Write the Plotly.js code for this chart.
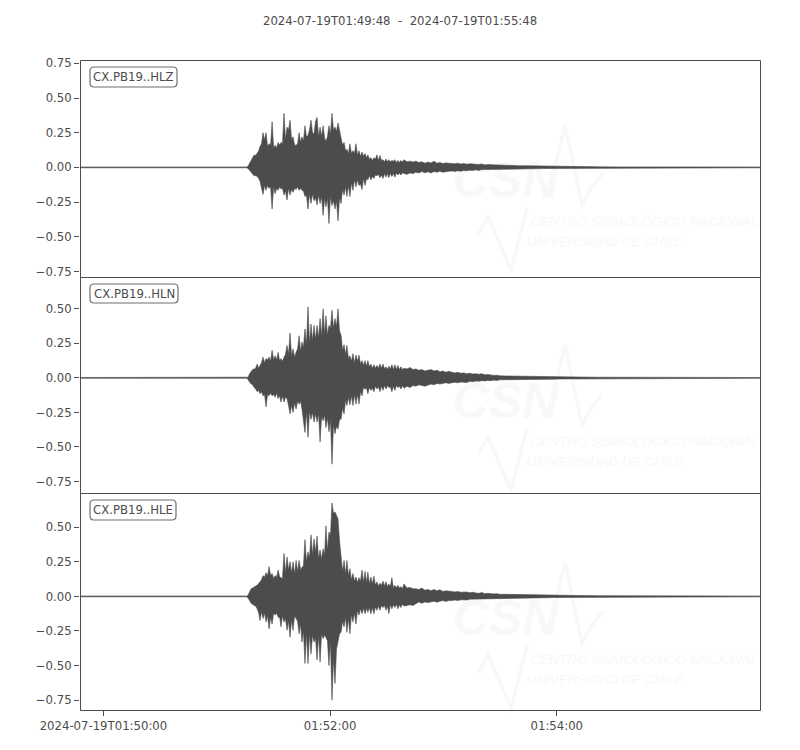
<!DOCTYPE html>
<html><head><meta charset="utf-8">
<script src="https://cdn.plot.ly/plotly-3.0.1.min.js"></script>
<style>html,body{margin:0;padding:0;background:#fff}</style></head>
<body><div id="c" style="width:800px;height:750px"></div>
<script>
// seconds after 2024-07-19T01:49:48
var seconds=[0,88.0,
88.6,89.4,90.2,91.0,91.8,92.6,93.4,94.2,94.9,95.7,96.5,97.3,98.1,98.9,99.7,100.5,101.3,102.1,102.9,103.7,104.5,105.3,106.0,106.8,107.6,108.4,109.2,110.0,110.8,111.6,112.4,113.2,114.0,114.8,115.6,116.4,117.1,117.9,118.7,119.5,120.3,121.1,121.9,122.7,123.5,124.3,125.1,125.9,126.7,127.5,128.3,129.1,129.8,130.6,131.4,132.2,133.0,133.8,134.6,135.4,136.2,137.0,137.8,138.6,139.4,140.2,140.9,141.7,142.5,143.3,144.1,144.9,145.7,146.5,147.3,148.1,148.9,149.7,150.5,151.3,152.0,152.8,153.6,154.4,155.2,156.0,156.8,157.6,158.4,159.2,160.0,160.8,161.6,162.4,163.1,163.9,164.7,165.5,166.3,167.1,167.9,168.7,169.5,170.3,
171.1,172.7,174.3,175.9,177.4,179.0,180.6,182.2,183.8,185.4,187.0,188.6,190.1,191.7,193.3,194.9,196.5,198.1,199.6,201.2,202.8,204.4,206.0,207.6,209.2,210.7,212.3,213.9,215.5,217.1,218.7,220.3,221.8,
225.0,228.2,231.4,234.5,237.7,240.9,244.0,247.2,250.4,253.6,
264.1,274.7,285.3,295.8,306.4,317.0,327.5,338.1,348.7,359.3,360];

var hlzUpper=[.003,.003,
.01,.03,.06,.07,.09,.085,.10,.12,.15,.17,.25,.20,.25,.15,.17,.16,.33,.14,.16,.14,.18,.16,.18,.17,.39,.20,.29,.27,.34,.20,.22,.16,.16,.17,.25,.18,.22,.19,.30,.22,.23,.27,.34,.25,.24,.33,.36,.22,.29,.22,.30,.21,.19,.22,.30,.24,.39,.27,.29,.26,.32,.26,
.23,.16,.18,.12,.13,.10,.17,.10,.12,.10,.17,.09,.12,.08,.11,.08,.10,.07,.09,.06,.07,.05,.07,.06,.09,.05,.085,.05,.055,.04,.06,.04,.055,.04,.05,.045,.055,.035,.05,.035,.05,.038,
.055,.04,.045,.038,.045,.035,.04,.03,.038,.032,.045,.03,.035,.028,.032,.03,.03,.026,.03,.024,.028,.022,.026,.024,.022,.02,.024,.018,.02,.019,.016,.02,.015,
.014,.013,.012,.012,.011,.01,.01,.009,.008,.008,
.005,.004,.003,.003,.003,.003,.003,.003,.003,.003,.003];
var hlzLower=[-.003,-.003,
-.01,-.02,-.03,-.05,-.06,-.06,-.065,-.08,-.10,-.14,-.195,-.13,-.165,-.13,-.15,-.14,-.30,-.14,-.19,-.15,-.165,-.14,-.155,-.15,-.20,-.17,-.235,-.15,-.20,-.16,-.18,-.15,-.16,-.14,-.165,-.15,-.165,-.17,-.21,-.20,-.30,-.19,-.26,-.19,-.24,-.22,-.27,-.20,-.26,-.21,-.345,-.22,-.285,-.22,-.405,-.21,-.275,-.24,-.30,-.24,-.385,-.22,
-.26,-.16,-.20,-.14,-.21,-.13,-.21,-.11,-.165,-.09,-.14,-.09,-.13,-.12,-.16,-.08,-.13,-.08,-.09,-.06,-.09,-.065,-.08,-.055,-.06,-.05,-.075,-.055,-.08,-.045,-.07,-.045,-.075,-.045,-.065,-.045,-.07,-.04,-.055,-.04,-.055,-.038,
-.045,-.05,-.04,-.045,-.035,-.04,-.03,-.038,-.032,-.04,-.03,-.035,-.028,-.035,-.03,-.028,-.026,-.03,-.024,-.028,-.022,-.025,-.02,-.022,-.018,-.022,-.016,-.02,-.016,-.018,-.014,-.016,-.013,
-.012,-.012,-.012,-.011,-.01,-.01,-.009,-.008,-.008,-.007,
-.005,-.004,-.003,-.003,-.003,-.003,-.003,-.003,-.003,-.003,-.003];

var hlnUpper=[.003,.003,
.005,.03,.05,.06,.065,.07,.10,.07,.09,.11,.15,.11,.14,.13,.15,.12,.20,.13,.16,.13,.185,.12,.14,.12,.15,.17,.235,.17,.325,.16,.21,.15,.185,.21,.305,.19,.26,.22,.355,.24,.515,.25,.39,.27,.38,.28,.38,.29,.43,.30,.50,.31,.45,.31,.38,.36,.49,.36,.43,.37,.50,.34,
.31,.20,.24,.17,.235,.14,.16,.12,.175,.11,.165,.12,.165,.10,.125,.09,.125,.085,.125,.08,.10,.07,.095,.07,.09,.07,.10,.07,.10,.065,.08,.06,.085,.065,.095,.06,.095,.06,.09,.06,.08,.06,
.07,.065,.075,.06,.065,.055,.06,.05,.055,.06,.05,.055,.045,.05,.04,.048,.04,.036,.04,.034,.036,.03,.034,.028,.03,.026,.03,.022,.024,.02,.018,.02,.015,
.014,.013,.012,.011,.011,.01,.01,.009,.009,.008,
.006,.005,.004,.003,.003,.003,.003,.003,.003,.003,.003];
var hlnLower=[-.003,-.003,
-.01,-.03,-.045,-.05,-.07,-.08,-.10,-.09,-.115,-.10,-.13,-.12,-.21,-.12,-.13,-.11,-.13,-.12,-.14,-.11,-.15,-.13,-.175,-.13,-.175,-.14,-.15,-.20,-.26,-.20,-.25,-.18,-.225,-.17,-.19,-.17,-.225,-.30,-.395,-.24,-.43,-.24,-.30,-.25,-.32,-.26,-.32,-.26,-.465,-.28,-.31,-.27,-.36,-.29,-.39,-.30,-.625,-.34,-.405,-.35,-.37,-.30,
-.30,-.22,-.26,-.16,-.20,-.14,-.195,-.13,-.20,-.12,-.19,-.12,-.19,-.10,-.13,-.07,-.08,-.075,-.115,-.07,-.09,-.075,-.10,-.06,-.08,-.065,-.10,-.06,-.09,-.055,-.08,-.055,-.07,-.065,-.10,-.06,-.09,-.055,-.07,-.06,-.08,-.055,
-.075,-.06,-.07,-.055,-.06,-.05,-.055,-.06,-.05,-.045,-.05,-.04,-.045,-.04,-.035,-.04,-.035,-.032,-.036,-.03,-.03,-.034,-.025,-.028,-.022,-.025,-.02,-.022,-.018,-.02,-.016,-.018,-.014,
-.013,-.013,-.012,-.011,-.011,-.01,-.01,-.009,-.009,-.008,
-.006,-.005,-.004,-.003,-.003,-.003,-.003,-.003,-.003,-.003,-.003];

var hleUpper=[.003,.003,
.01,.03,.055,.06,.07,.075,.08,.09,.105,.12,.15,.14,.17,.15,.215,.15,.165,.13,.15,.14,.19,.14,.135,.13,.31,.17,.285,.19,.25,.17,.25,.16,.26,.18,.26,.19,.21,.22,.41,.25,.32,.28,.445,.30,.415,.32,.435,.27,.335,.27,.345,.30,.51,.33,.465,.44,.675,.60,.61,.58,.56,.40,
.27,.18,.26,.16,.26,.15,.20,.12,.165,.11,.14,.10,.135,.11,.19,.10,.18,.10,.175,.09,.14,.09,.145,.08,.105,.075,.095,.08,.11,.075,.105,.07,.09,.07,.135,.06,.08,.06,.08,.06,.07,.055,
.09,.06,.065,.055,.055,.05,.06,.045,.05,.04,.05,.04,.048,.036,.04,.04,.036,.032,.035,.03,.03,.032,.026,.03,.025,.022,.028,.02,.022,.018,.018,.02,.015,
.015,.014,.013,.012,.011,.01,.01,.009,.008,.008,
.006,.005,.004,.004,.003,.003,.003,.003,.003,.003,.003];
var hleLower=[-.003,-.003,
-.01,-.03,-.05,-.055,-.065,-.07,-.09,-.12,-.175,-.11,-.16,-.12,-.185,-.14,-.235,-.15,-.20,-.12,-.135,-.12,-.15,-.15,-.22,-.14,-.185,-.16,-.245,-.18,-.295,-.17,-.245,-.14,-.16,-.18,-.27,-.20,-.33,-.25,-.485,-.26,-.485,-.27,-.415,-.28,-.33,-.30,-.46,-.28,-.475,-.27,-.305,-.28,-.295,-.32,-.50,-.32,-.75,-.45,-.63,-.38,-.32,-.27,
-.26,-.18,-.22,-.15,-.26,-.16,-.27,-.13,-.185,-.12,-.20,-.10,-.135,-.09,-.125,-.085,-.125,-.085,-.115,-.08,-.125,-.08,-.125,-.075,-.10,-.07,-.10,-.065,-.08,-.065,-.10,-.07,-.125,-.06,-.09,-.06,-.08,-.055,-.09,-.06,-.08,-.055,
-.07,-.065,-.06,-.065,-.05,-.04,-.05,-.04,-.045,-.04,-.035,-.042,-.035,-.03,-.036,-.03,-.03,-.026,-.03,-.025,-.024,-.026,-.02,-.022,-.02,-.018,-.02,-.016,-.018,-.015,-.016,-.014,-.013,
-.013,-.012,-.012,-.011,-.011,-.01,-.01,-.009,-.008,-.008,
-.006,-.005,-.004,-.004,-.003,-.003,-.003,-.003,-.003,-.003,-.003];

var channels=["CX.PB19..HLZ","CX.PB19..HLN","CX.PB19..HLE"];
var yTicks=[-0.75,-0.5,-0.25,0,0.25,0.5,0.75];
var xTickVals=["2024-07-19 01:50:00","2024-07-19 01:52:00","2024-07-19 01:54:00"];
var xTickText=["2024-07-19T01:50:00","01:52:00","01:54:00"];
var heading="2024-07-19T01:49:48\u00A0\u00A0-\u00A0\u00A02024-07-19T01:55:48";

var INK="#4c4c4c",FAINT="#f8f8f8",FS=11.7;
var t0=Date.UTC(2024,6,19,1,49,48);
function iso(s){return new Date(t0+s*1000).toISOString().replace('T',' ').replace('Z','');}
var X=seconds.map(iso);
var L=80,R=760,T=60,B=710,W=800,H=750;
var pxp=function(px){return (px-L)/(R-L);};
var pyp=function(py){return (B-py)/(B-T);};
var rows=[[60,277],[277,493],[493,710]];
var ranges=[[-0.790,0.774],[-0.834,0.731],[-0.821,0.747]];
var uppers=[hlzUpper,hlnUpper,hleUpper],lowers=[hlzLower,hlnLower,hleLower];
var boxes=[[90,177,67,87],[90,178,284,303],[90,176,500,520]];
var wmOff=[0,220,438];
var traces=[],shapes=[],annotations=[];

function wmText(i,px,py,txt,size,bold){
  var a=ranges[i],rw=rows[i];
  var y=a[1]-(py-rw[0])/(rw[1]-rw[0])*(a[1]-a[0]);
  var s=(px-80.3)/1.892;
  traces.push({x:[iso(s)],y:[y],mode:'text',text:[bold?'<b><i>'+txt+'</i></b>':'<i>'+txt+'</i>'],textposition:'middle right',
    textfont:{family:'Liberation Sans',size:size,color:FAINT},xaxis:'x',yaxis:i?'y'+(i+1):'y',hoverinfo:'skip',showlegend:false});
}
function polyline(pts,off,w){
  var d=pts.map(function(p,k){return (k?'L':'M')+(pxp(p[0]))+','+pyp(p[1]+off);}).join(' ');
  shapes.push({type:'path',xref:'paper',yref:'paper',path:d,line:{color:FAINT,width:w},layer:'below'});
}
channels.forEach(function(c,i){
  var ya=i?'y'+(i+1):'y';
  var off=wmOff[i];
  wmText(i,453,185+off,'CSN',50,true);
  wmText(i,531,223+off,'CENTRO SISMOLÓGICO NACIONAL',13.4,false);
  wmText(i,527,243+off,'UNIVERSIDAD DE CHILE',13.4,false);
  polyline([[552,180],[565,125],[582,205],[590,190],[603,173]],off,3.5);
  polyline([[478,235],[488,217],[498,240],[511,270],[527,208]],off,3.5);
  traces.push({x:X.concat(X.slice().reverse()),y:uppers[i].concat(lowers[i].slice().reverse()),mode:'lines',
    line:{color:INK,width:0.6},fill:'toself',fillcolor:INK,xaxis:'x',yaxis:ya,hoverinfo:'skip',showlegend:false});
  shapes.push({type:'rect',xref:'paper',yref:'paper',layer:'above',x0:pxp(80.5),x1:pxp(760.5),y0:pyp(rows[i][1]+.5),y1:pyp(rows[i][0]+.5),
    line:{color:INK,width:1},fillcolor:'rgba(0,0,0,0)'});
  var b=boxes[i];
  var r=4;
  var x0=b[0],x1=b[1],y0=b[2],y1=b[3];
  function P(px,py){return pxp(px)+','+pyp(py);}
  shapes.push({type:'path',xref:'paper',yref:'paper',layer:'above',fillcolor:'#ffffff',line:{color:'#6e6e6e',width:1.2},
    path:'M'+P(x0+r,y0)+' L'+P(x1-r,y0)+' Q'+P(x1,y0)+' '+P(x1,y0+r)+' L'+P(x1,y1-r)+' Q'+P(x1,y1)+' '+P(x1-r,y1)+' L'+P(x0+r,y1)+' Q'+P(x0,y1)+' '+P(x0,y1-r)+' L'+P(x0,y0+r)+' Q'+P(x0,y0)+' '+P(x0+r,y0)+' Z'});
  annotations.push({xref:'paper',yref:'paper',x:pxp((x0+x1)/2),y:pyp((y0+y1)/2),text:c,showarrow:false,xanchor:'center',yanchor:'middle',
    font:{family:'DejaVu Sans',size:FS,color:INK}});
});
annotations.push({xref:'paper',yref:'paper',x:pxp(400),y:pyp(21),text:heading,showarrow:false,xanchor:'center',yanchor:'middle',
  font:{family:'DejaVu Sans',size:FS,color:INK}});

var layout={width:W,height:H,margin:{l:L,r:W-R,t:T,b:H-B,pad:0},paper_bgcolor:'#fff',plot_bgcolor:'rgba(0,0,0,0)',
  font:{family:'DejaVu Sans',size:FS,color:INK},showlegend:false,shapes:shapes,annotations:annotations,
  xaxis:{type:'date',range:[iso(-0.4),iso(359.6)],anchor:'y3',tickmode:'array',tickvals:xTickVals,ticktext:xTickText,
    ticks:'outside',ticklen:5,tickwidth:1,tickcolor:INK,showgrid:false,zeroline:false,showline:false,tickangle:0,
    tickfont:{family:'DejaVu Sans',size:FS,color:INK}}};
[[0.6662,1],[0.3338,0.6662],[0,0.3338]].forEach(function(d,i){
  layout[i?'yaxis'+(i+1):'yaxis']={domain:d,range:ranges[i],anchor:'x',tickmode:'array',tickvals:yTicks,
    ticktext:yTicks.map(function(v){return (v<0?'\u2212':'')+Math.abs(v).toFixed(2);}),
    ticks:'outside',ticklen:5,tickwidth:1,tickcolor:INK,showgrid:false,zeroline:false,showline:false,
    tickfont:{family:'DejaVu Sans',size:FS,color:INK}};
});
Plotly.newPlot('c',traces,layout,{displayModeBar:false,staticPlot:true});
</script></body></html>
